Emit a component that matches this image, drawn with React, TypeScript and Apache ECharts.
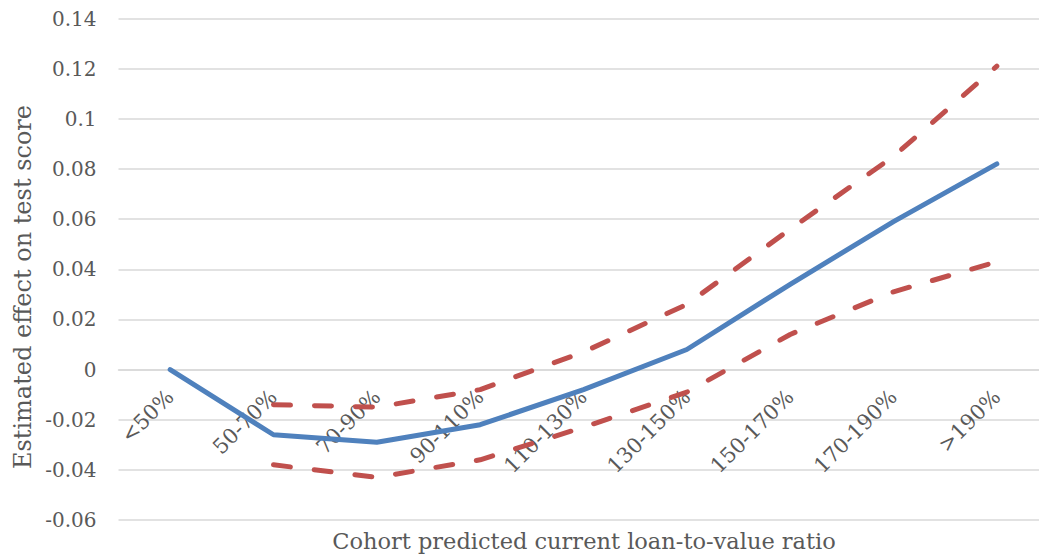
import React, { useEffect, useRef } from "react";
import * as echarts from "echarts";

// Loan-to-value cohorts
const categories = [
  "<50%",
  "50-70%",
  "70-90%",
  "90-110%",
  "110-130%",
  "130-150%",
  "150-170%",
  "170-190%",
  ">190%",
];

// Point estimate and confidence bounds
const estimate = [0, -0.026, -0.029, -0.022, -0.008, 0.008, 0.034, 0.059, 0.082];
const upperBound = [null, -0.014, -0.015, -0.008, 0.007, 0.026, 0.056, 0.085, 0.121];
const lowerBound = [null, -0.038, -0.043, -0.036, -0.023, -0.009, 0.014, 0.031, 0.043];

const yMin = -0.06;
const yMax = 0.14;
const yStep = 0.02;

const FONT = "'DejaVu Serif', serif";
const TEXT = "#595959";
const GRID = "#D9D9D9";

export default function App() {
  const ref = useRef<HTMLDivElement>(null);

  useEffect(() => {
    if (!ref.current) return;
    const chart = echarts.init(ref.current, undefined, { renderer: "svg" });

    const gridTop = 18.5;
    const gridBottom = 40;
    const plotHeight = 560 - gridTop - gridBottom;
    // lift the category axis from the bottom edge up to the zero line
    const zeroOffset = -((0 - yMin) / (yMax - yMin)) * plotHeight;

    const dashed = {
      type: "line",
      symbol: "none",
      connectNulls: false,
      lineStyle: { color: "#C0504D", width: 5, type: [17, 24], cap: "round" },
      z: 2,
    };

    chart.setOption({
      animation: false,
      backgroundColor: "#ffffff",
      grid: {
        left: 118.5,
        right: -9.5,
        top: gridTop,
        bottom: gridBottom,
        containLabel: false,
        outerBoundsMode: "none",
      },
      xAxis: {
        type: "category",
        data: categories,
        boundaryGap: true,
        offset: zeroOffset,
        axisLine: { show: true, onZero: false, lineStyle: { color: GRID, width: 1.5 } },
        axisTick: { show: false },
        axisLabel: {
          rotate: 45,
          interval: 0,
          margin: 24,
          color: TEXT,
          fontFamily: FONT,
          fontSize: 21,
          hideOverlap: false,
        },
      },
      yAxis: {
        type: "value",
        min: yMin,
        max: yMax,
        interval: yStep,
        axisLine: { show: false },
        axisTick: { show: false },
        splitLine: { lineStyle: { color: GRID, width: 1.5 } },
        axisLabel: {
          margin: 22,
          color: TEXT,
          fontFamily: FONT,
          fontSize: 20,
          formatter: (v: number) => String(parseFloat(v.toFixed(2))),
        },
      },
      graphic: [
        {
          type: "text",
          x: 584,
          y: 541,
          style: {
            text: "Cohort predicted current loan-to-value ratio",
            fill: TEXT,
            font: `22.5px ${FONT}`,
            textAlign: "center",
            textVerticalAlign: "middle",
          },
        },
        {
          type: "text",
          x: 23,
          y: 287,
          rotation: Math.PI / 2,
          style: {
            text: "Estimated effect on test score",
            fill: TEXT,
            font: `24px ${FONT}`,
            textAlign: "center",
            textVerticalAlign: "middle",
          },
        },
      ],
      series: [
        { ...dashed, name: "Upper", data: upperBound },
        { ...dashed, name: "Lower", data: lowerBound },
        {
          type: "line",
          name: "Estimate",
          data: estimate,
          symbol: "none",
          lineStyle: { color: "#4F81BD", width: 5, cap: "round", join: "round" },
          z: 3,
        },
      ],
    });

    return () => chart.dispose();
  }, []);

  return (
    <div
      ref={ref}
      style={{ position: "fixed", left: 0, top: 0, width: 1039, height: 560, background: "#fff" }}
    />
  );
}
